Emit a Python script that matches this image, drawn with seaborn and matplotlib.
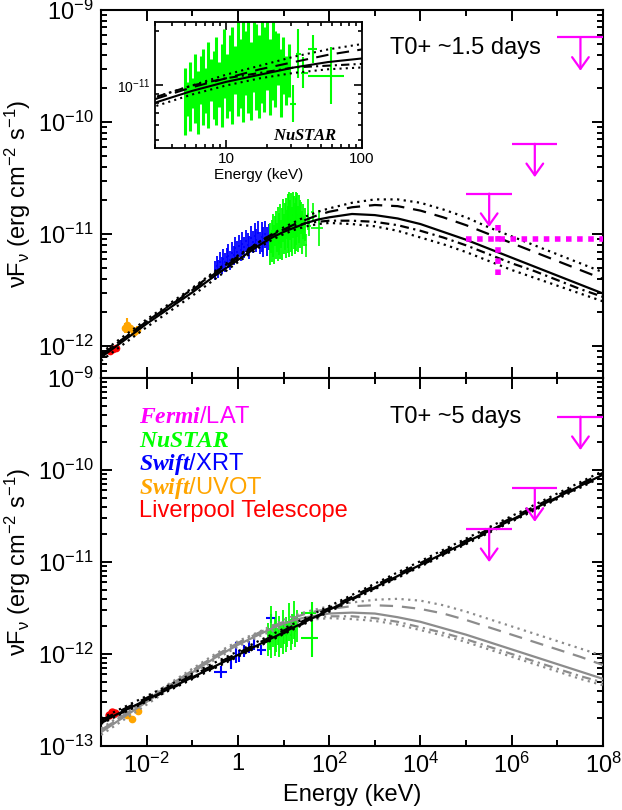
import numpy as np
import matplotlib
matplotlib.use('Agg')
import matplotlib.pyplot as plt
import matplotlib.ticker as mticker
import seaborn as sns

sns.set_theme(style='ticks', rc={'axes.edgecolor': 'black', 'xtick.color': 'black', 'ytick.color': 'black',
                                 'text.color': 'black', 'axes.labelcolor': 'black'})
plt.rcParams['font.family'] = ['Liberation Sans', 'DejaVu Sans']
plt.rcParams['mathtext.fontset'] = 'custom'
plt.rcParams['mathtext.rm'] = 'Liberation Sans'
plt.rcParams['mathtext.it'] = 'Liberation Sans:italic'
plt.rcParams['mathtext.bf'] = 'Liberation Sans:bold'
plt.rcParams['mathtext.bfit'] = 'Liberation Serif:italic:bold'

GREEN = '#00ff00'
BLUE = '#0000ff'
ORANGE = '#ffa500'
RED = '#ff0000'
MAG = '#ff00ff'
GREY = '#8c8c8c'
FS = 17

# ---------------- model curves (log10 E [keV] -> log10 nuFnu) ----------------
logE_grid = [-3, -2, -1, -0.5, 0, 0.5, 0.75, 1.0, 1.25, 1.5, 1.75, 2.0,
             2.5, 3.0, 3.5, 4.0, 4.5, 5.0, 5.5, 6.0, 6.5, 7.0, 7.5, 8.0]

# epoch 1 (T0+1.5 d)
m1_solid = [-12.10, -11.80, -11.52, -11.37, -11.23, -11.09, -11.03, -10.98, -10.94, -10.90, -10.87, -10.85,
            -10.82, -10.83, -10.86, -10.91, -10.98, -11.05, -11.13, -11.21, -11.29, -11.37, -11.45, -11.53]
m1_dot_hi = [-12.06, -11.76, -11.48, -11.33, -11.19, -11.06, -11.00, -10.94, -10.89, -10.84, -10.80, -10.77,
             -10.72, -10.69, -10.69, -10.72, -10.78, -10.85, -10.94, -11.02, -11.10, -11.18, -11.26, -11.34]
m1_dash = [-12.08, -11.78, -11.50, -11.35, -11.21, -11.07, -11.01, -10.96, -10.91, -10.87, -10.83, -10.80,
           -10.76, -10.74, -10.75, -10.79, -10.85, -10.92, -11.00, -11.08, -11.16, -11.24, -11.32, -11.40]
m1_dashdot = [-12.08, -11.78, -11.49, -11.34, -11.20, -11.06, -11.00, -10.96, -10.93, -10.90, -10.89, -10.88,
              -10.88, -10.89, -10.92, -10.97, -11.03, -11.10, -11.18, -11.26, -11.33, -11.41, -11.49, -11.56]
m1_dot_lo = [-12.13, -11.83, -11.55, -11.40, -11.25, -11.11, -11.05, -11.00, -10.96, -10.93, -10.91, -10.90,
             -10.91, -10.93, -10.97, -11.03, -11.09, -11.16, -11.24, -11.32, -11.39, -11.46, -11.53, -11.60]

# epoch 2 (T0+5 d): black power law and grey curved models
logE_pl = [-3, 0, 2, 4, 6, 8]
m2_solid = [-12.74, -12.01, -11.52, -11.03, -10.54, -10.05]
m2_dot_hi = [-12.70, -11.97, -11.48, -10.99, -10.50, -10.01]
m2_dash = [-12.72, -11.99, -11.50, -11.01, -10.52, -10.03]
m2_dashdot = [-12.75, -12.02, -11.53, -11.04, -10.55, -10.06]
m2_dot_lo = [-12.76, -12.03, -11.54, -11.05, -10.56, -10.07]

g2_solid = [-12.85, -12.52, -12.20, -12.04, -11.90, -11.78, -11.72, -11.67, -11.63, -11.60, -11.58, -11.56,
            -11.55, -11.56, -11.60, -11.65, -11.72, -11.79, -11.87, -11.95, -12.03, -12.11, -12.19, -12.27]
g2_dot_hi = [-12.81, -12.48, -12.16, -12.00, -11.86, -11.75, -11.69, -11.63, -11.58, -11.54, -11.51, -11.48,
             -11.44, -11.41, -11.40, -11.42, -11.47, -11.54, -11.62, -11.70, -11.78, -11.86, -11.94, -12.02]
g2_dash = [-12.83, -12.50, -12.18, -12.02, -11.88, -11.76, -11.70, -11.65, -11.60, -11.56, -11.53, -11.51,
           -11.48, -11.47, -11.48, -11.51, -11.56, -11.63, -11.71, -11.79, -11.87, -11.95, -12.03, -12.12]
g2_dashdot = [-12.83, -12.50, -12.18, -12.02, -11.88, -11.76, -11.71, -11.66, -11.63, -11.61, -11.60, -11.59,
              -11.59, -11.61, -11.65, -11.71, -11.77, -11.84, -11.92, -12.00, -12.08, -12.16, -12.24, -12.31]
g2_dot_lo = [-12.88, -12.55, -12.22, -12.06, -11.92, -11.80, -11.75, -11.70, -11.66, -11.64, -11.62, -11.61,
             -11.62, -11.64, -11.68, -11.74, -11.80, -11.87, -11.95, -12.03, -12.11, -12.19, -12.27, -12.34]

# ---------------- data, epoch 1 ----------------
lt1_E = [1.6e-3, 1.85e-3, 2.15e-3]
lt1_F = [9.0e-13, 9.4e-13, 9.7e-13]

uv1_E = [3.3e-3, 3.8e-3, 4.4e-3, 5.2e-3, 6.0e-3]
uv1_F = [1.45e-12, 1.55e-12, 1.45e-12, 1.35e-12, 1.40e-12]
uv1_err = [0.15e-12, 0.25e-12, 0.12e-12, 0.10e-12, 0.12e-12]

xrt1_E = [0.31, 0.34, 0.37, 0.40, 0.44, 0.48, 0.52, 0.57, 0.62, 0.68, 0.74, 0.81, 0.88, 0.96, 1.05, 1.15,
          1.25, 1.37, 1.49, 1.63, 1.78, 1.94, 2.12, 2.31, 2.52, 2.75, 3.0, 3.3, 3.6, 3.9, 4.3, 4.7]
xrt1_lo = [3.9, 4.3, 4.1, 4.6, 4.4, 4.9, 4.6, 5.2, 5.0, 4.8, 5.5, 5.3, 5.9, 5.6, 6.2, 5.8,
           6.5, 6.1, 6.9, 6.4, 6.0, 7.2, 6.8, 7.5, 7.0, 7.8, 6.6, 7.0, 6.2, 7.6, 6.4, 7.2]
xrt1_hi = [5.8, 6.4, 5.9, 6.9, 6.2, 7.3, 6.8, 7.6, 8.2, 7.1, 8.5, 7.9, 9.4, 8.6, 9.8, 8.9,
           10.4, 9.5, 11.0, 10.2, 9.6, 11.8, 10.7, 12.6, 11.2, 13.2, 10.5, 12.9, 11.6, 13.0, 11.5, 12.2]

nu1_E = [5.0, 5.2, 5.45, 5.7, 5.95, 6.2, 6.5, 6.8, 7.1, 7.4, 7.75, 8.1, 8.5, 8.9, 9.3, 9.7, 10.2, 10.6, 11.1, 11.6,
         12.2, 12.7, 13.3, 13.9, 14.6, 15.3, 16.0, 16.7, 17.5, 18.3, 19.1, 20.0, 21.0, 22.0, 23.0, 24.1, 25.2, 26.4,
         27.6, 28.9]
nu1_lo = [5.3, 6.8, 5.6, 7.5, 6.2, 5.4, 7.9, 6.0, 7.0, 5.8, 8.2, 6.5, 6.0, 7.6, 5.9, 8.5, 6.6, 7.2, 6.1, 9.0,
          6.8, 7.5, 6.3, 8.8, 7.0, 6.4, 9.2, 7.3, 6.6, 8.0, 7.1, 9.5, 6.9, 8.3, 7.6, 10.0, 6.7, 9.0, 7.8, 8.6]
nu1_hi = [12.5, 10.5, 13.5, 11.0, 15.0, 12.0, 14.5, 16.0, 12.5, 17.5, 14.0, 15.5, 18.5, 13.5, 17.0, 20.5, 15.0,
          19.0, 21.0, 16.5, 23.0, 18.0, 24.0, 20.0, 23.5, 17.5, 24.0, 22.0, 19.0, 24.0, 21.0, 23.5, 18.0, 22.5,
          20.0, 19.5, 16.0, 18.5, 14.5, 17.0]
# wide high-energy NuSTAR bins, epoch 1
nu1b_E = [31.0, 34.0, 37.0, 43.6, 59.0]
nu1b_Elo = [29.5, 32.5, 35.5, 40.0, 40.0]
nu1b_Ehi = [32.5, 35.5, 40.0, 47.0, 74.0]
nu1b_lo = [6.3, 11.0, 9.7, 13.3, 7.9]
nu1b_hi = [10.0, 20.5, 14.3, 19.0, 16.3]

lat1_det_E, lat1_det_F = 5.1e5, 9.1e-12
lat1_det_Elo, lat1_det_Ehi = 1.0e5, 2.0e8
lat1_det_Flo, lat1_det_Fhi = 4.3e-12, 1.26e-11

# ---------------- data, epoch 2 ----------------
lt2_E = [1.5e-3, 1.75e-3, 2.05e-3]
lt2_F = [2.2e-13, 2.35e-13, 2.3e-13]

uv2_E = [3.7e-3, 4.7e-3, 6.4e-3]
uv2_F = [2.2e-13, 1.95e-13, 2.4e-13]
uv2_err = [0.1e-13, 0.1e-13, 0.1e-13]

xrt2_E = [0.43, 0.71, 0.91, 1.05, 1.35, 1.74, 2.2, 3.2, 5.2]
xrt2_F = [0.63, 0.79, 1.05, 0.95, 1.08, 1.20, 1.28, 1.10, 2.45]
xrt2_Elo = [0.30, 0.66, 0.87, 1.00, 1.29, 1.66, 2.1, 2.6, 4.1]
xrt2_Ehi = [0.57, 0.76, 0.95, 1.10, 1.41, 1.82, 2.3, 4.1, 6.8]
xrt2_Flo = [0.55, 0.68, 0.80, 0.82, 0.93, 1.03, 1.10, 0.97, 2.20]
xrt2_Fhi = [0.74, 0.91, 1.35, 1.10, 1.25, 1.40, 1.48, 1.25, 2.75]

nu2_E = [4.6, 5.0, 5.4, 5.9, 6.4, 6.9, 7.5, 8.1, 8.8, 9.5, 10.3, 11.2, 12.1, 13.1, 14.2, 15.4, 16.7, 18.1, 19.6]
nu2_lo = [0.95, 1.1, 0.9, 1.2, 0.95, 1.05, 1.25, 0.92, 1.15, 1.0, 1.3, 1.05, 1.2, 1.4, 1.1, 1.3, 1.45, 1.2, 1.35]
nu2_hi = [2.2, 1.9, 3.3, 2.0, 2.4, 2.9, 1.9, 2.6, 2.2, 3.0, 2.1, 2.5, 2.3, 3.6, 2.4, 2.7, 3.8, 2.6, 3.0]
nu2b_E = [41.0, 41.0]
nu2b_F = [2.8, 1.5]
nu2b_Elo = [24.5, 24.5]
nu2b_Ehi = [52.0, 58.0]
nu2b_Flo = [2.3, 0.92]
nu2b_Fhi = [3.7, 2.4]

# Fermi/LAT upper limits
lat_E = [3.2e5, 3.2e6, 3.2e7]
lat_Elo = [1e5, 1e6, 1e7]
lat_Ehi = [1e6, 1e7, 1e8]
lat1_ul = [2.3e-11, 6.4e-11, 5.7e-10]
lat2_ul = [2.3e-11, 6.3e-11, 3.8e-10]

x_major = [1e-2, 1, 1e2, 1e4, 1e6, 1e8]
x_minor = [1e-3, 1e-1, 1e1, 1e3, 1e5, 1e7]
x_labels = ['$10^{-2}$', '1', '$10^{2}$', '$10^{4}$', '$10^{6}$', '$10^{8}$']

legend_labels = [r'$\mathbfit{Fermi}$/LAT', r'$\mathbfit{NuSTAR}$', r'$\mathbfit{Swift}$/XRT',
                 r'$\mathbfit{Swift}$/UVOT', 'Liverpool Telescope']
legend_colors = [MAG, GREEN, BLUE, ORANGE, RED]

DOT = (0, (1, 2))
DASH = (0, (6, 4))
DASHDOT = (0, (4, 2, 1, 2))


def draw_models(ax, logE, curves, color, lw=1.6):
    E = 10.0 ** np.asarray(logE, dtype=float)
    for vals, ls in curves:
        sns.lineplot(x=E, y=10.0 ** np.asarray(vals, dtype=float), ax=ax, color=color, linestyle=ls, lw=lw,
                     estimator=None, sort=False, legend=False, zorder=3)


def draw_bins(ax, E, lo, hi, color, scale, frac=0.022, lw=1.3):
    E = np.asarray(E, dtype=float)
    lo = np.asarray(lo, dtype=float) * scale
    hi = np.asarray(hi, dtype=float) * scale
    c = np.sqrt(lo * hi)
    ax.errorbar(E, c, yerr=[c - lo, hi - c], xerr=[E - E / (1 + frac), E * (1 + frac) - E],
                fmt='none', ecolor=color, elinewidth=lw, capsize=0, zorder=2)


def draw_cross(ax, E, F, Elo, Ehi, Flo, Fhi, color, scale, lw=1.5):
    E = np.asarray(E, dtype=float)
    F = np.asarray(F, dtype=float) * scale
    ax.errorbar(E, F, xerr=[E - np.asarray(Elo), np.asarray(Ehi) - E],
                yerr=[F - np.asarray(Flo) * scale, np.asarray(Fhi) * scale - F],
                fmt='none', ecolor=color, elinewidth=lw, capsize=0, zorder=2)


def draw_uls(ax, ul):
    ax.hlines(ul, lat_Elo, lat_Ehi, color=MAG, lw=1.6, zorder=4)
    for e, u in zip(lat_E, ul):
        ax.annotate('', xy=(e, u), xytext=(0, -24), textcoords='offset points',
                    arrowprops=dict(arrowstyle='<-,head_length=0.7,head_width=0.5', color=MAG,
                                    lw=1.6, shrinkA=0, shrinkB=0, mutation_scale=12), zorder=4)


def style_axis(ax, ylim):
    ax.set_xscale('log')
    ax.set_yscale('log')
    ax.set_xlim(1e-3, 1e8)
    ax.set_ylim(*ylim)
    ax.xaxis.set_major_locator(mticker.FixedLocator(x_major))
    ax.xaxis.set_minor_locator(mticker.FixedLocator(x_minor))
    ax.xaxis.set_major_formatter(mticker.FixedFormatter(x_labels))
    ax.xaxis.set_minor_formatter(mticker.NullFormatter())
    ax.yaxis.set_major_locator(mticker.LogLocator(base=10, numticks=20))
    ax.yaxis.set_minor_locator(mticker.LogLocator(base=10, subs=np.arange(2, 10), numticks=20))
    ax.yaxis.set_minor_formatter(mticker.NullFormatter())
    ax.tick_params(which='both', direction='in', top=True, right=True, width=1.4, labelsize=FS, pad=5)
    ax.tick_params(which='major', length=8)
    ax.tick_params(which='minor', length=4)
    for s in ax.spines.values():
        s.set_linewidth(1.5)
    ax.set_ylabel(r'νF$_{\mathregular{ν}}$ (erg cm$^{\mathregular{-2}}$ s$^{\mathregular{-1}}$)', fontsize=FS)
    ax.yaxis.set_label_coords(-0.135, 0.5)


fig = plt.figure(figsize=(6.22, 8.10), dpi=100)
ax1 = fig.add_axes([0.1624, 0.5333, 0.8071, 0.4543])
ax2 = fig.add_axes([0.1624, 0.0790, 0.8071, 0.4543])

# ---------------- top panel ----------------
style_axis(ax1, (5.2e-13, 1e-9))
ax1.tick_params(which='both', labelbottom=False)

draw_bins(ax1, xrt1_E, xrt1_lo, xrt1_hi, BLUE, 1e-12, frac=0.045)
draw_bins(ax1, nu1_E, nu1_lo, nu1_hi, GREEN, 1e-12)
draw_cross(ax1, nu1b_E, np.sqrt(np.array(nu1b_lo) * np.array(nu1b_hi)), nu1b_Elo, nu1b_Ehi,
           nu1b_lo, nu1b_hi, GREEN, 1e-12, lw=1.2)
ax1.errorbar(uv1_E, uv1_F, yerr=uv1_err, fmt='o', ms=4.5, color=ORANGE, ecolor=ORANGE, elinewidth=1.5, zorder=2)
ax1.plot(lt1_E, lt1_F, 'o', ms=4.5, color=RED, zorder=2)

draw_models(ax1, logE_grid, [(m1_dot_hi, DOT), (m1_dash, DASH), (m1_dashdot, DASHDOT),
                             (m1_dot_lo, DOT), (m1_solid, '-')], 'black')

draw_uls(ax1, lat1_ul)
ax1.plot([lat1_det_Elo, lat1_det_Ehi], [lat1_det_F, lat1_det_F], color=MAG, lw=4,
         linestyle=(0, (1, 1)), solid_capstyle='butt', zorder=5)
ax1.plot([lat1_det_E, lat1_det_E], [lat1_det_Flo, lat1_det_Fhi], color=MAG, lw=4,
         linestyle=(0, (1, 1)), zorder=5)
ax1.text(0.575, 0.897, 'T0+ ~1.5 days', transform=ax1.transAxes, fontsize=FS, va='center')

# ---------------- bottom panel ----------------
style_axis(ax2, (1e-13, 1e-9))
ax2.set_xlabel('Energy (keV)', fontsize=FS, labelpad=4)

draw_models(ax2, logE_grid, [(g2_dot_hi, DOT), (g2_dash, DASH), (g2_dashdot, DASHDOT),
                             (g2_dot_lo, DOT), (g2_solid, '-')], GREY)
draw_cross(ax2, xrt2_E, xrt2_F, xrt2_Elo, xrt2_Ehi, xrt2_Flo, xrt2_Fhi, BLUE, 1e-12)
draw_bins(ax2, nu2_E, nu2_lo, nu2_hi, GREEN, 1e-12, frac=0.03)
draw_cross(ax2, nu2b_E, nu2b_F, nu2b_Elo, nu2b_Ehi, nu2b_Flo, nu2b_Fhi, GREEN, 1e-12)
ax2.errorbar(uv2_E, uv2_F, yerr=uv2_err, fmt='o', ms=4.5, color=ORANGE, ecolor=ORANGE, elinewidth=1.5, zorder=2)
ax2.plot(lt2_E, lt2_F, 'o', ms=5, color=RED, zorder=2)

draw_models(ax2, logE_pl, [(m2_dot_hi, DOT), (m2_dash, DASH), (m2_dashdot, DASHDOT),
                           (m2_dot_lo, DOT), (m2_solid, '-')], 'black')
draw_uls(ax2, lat2_ul)
ax2.text(0.575, 0.894, 'T0+ ~5 days', transform=ax2.transAxes, fontsize=FS, va='center')

for i, (lab, col) in enumerate(zip(legend_labels, legend_colors)):
    ax2.text(0.075, 0.894 - i * 0.064, lab, transform=ax2.transAxes, color=col, fontsize=FS, va='center')

# ---------------- inset (NuSTAR zoom) ----------------
ins = fig.add_axes([155 / 622, 1 - 148 / 810, 207 / 622, 126 / 810])
ins.set_xscale('log')
ins.set_yscale('log')
ins.set_xlim(3, 100)
ins.set_ylim(4.5e-12, 2.25e-11)
draw_bins(ins, nu1_E, nu1_lo, nu1_hi, GREEN, 1e-12, lw=2.2)
draw_cross(ins, nu1b_E, np.sqrt(np.array(nu1b_lo) * np.array(nu1b_hi)), nu1b_Elo, nu1b_Ehi,
           nu1b_lo, nu1b_hi, GREEN, 1e-12, lw=1.5)
draw_models(ins, logE_grid, [(m1_dot_hi, DOT), (m1_dash, DASH), (m1_dashdot, DASHDOT),
                             (m1_dot_lo, DOT), (m1_solid, '-')], 'black', lw=1.5)
ins.xaxis.set_major_locator(mticker.FixedLocator([10, 100]))
ins.xaxis.set_minor_locator(mticker.FixedLocator([3, 4, 5, 6, 7, 8, 9, 20, 30, 40, 50, 60, 70, 80, 90]))
ins.xaxis.set_major_formatter(mticker.FixedFormatter(['10', '100']))
ins.xaxis.set_minor_formatter(mticker.NullFormatter())
ins.yaxis.set_major_locator(mticker.FixedLocator([1e-11]))
ins.yaxis.set_major_formatter(mticker.FixedFormatter(['$10^{-11}$']))
ins.yaxis.set_minor_locator(mticker.FixedLocator([5e-12, 6e-12, 7e-12, 8e-12, 9e-12, 2e-11]))
ins.yaxis.set_minor_formatter(mticker.NullFormatter())
ins.tick_params(which='both', direction='in', top=True, right=True, width=1.2, labelsize=11, pad=3)
ins.tick_params(which='major', length=6)
ins.tick_params(which='minor', length=3)
ins.tick_params(axis='y', labelsize=10)
for s in ins.spines.values():
    s.set_linewidth(1.3)
ins.set_xlabel('Energy (keV)', fontsize=11, labelpad=1)
ins.set_ylabel('')
ins.text(0.57, 0.1, r'$\mathbfit{NuSTAR}$', transform=ins.transAxes, fontsize=12, va='center')

fig.savefig('out.png', dpi=100)
